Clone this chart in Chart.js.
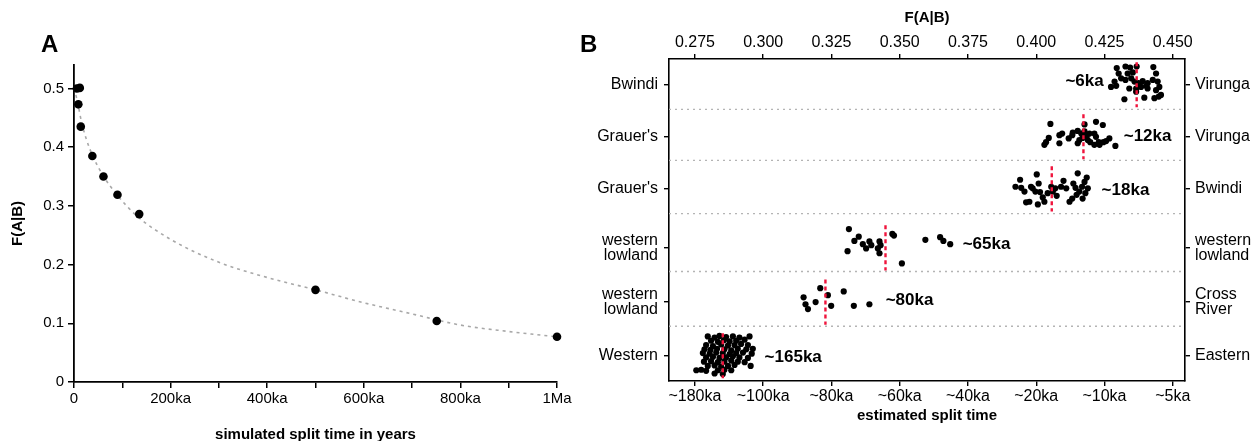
<!DOCTYPE html>
<html lang="en">
<head>
<meta charset="UTF-8" />
<title>F(A|B) and split times</title>
<script src="https://cdn.jsdelivr.net/npm/chart.js"></script>
<style>
  body {
    margin: 0;
    background: #fff;
    width: 1255px;
    height: 441px;
    overflow: hidden;
    position: relative;
    font-family: 'Liberation Sans', Arial, sans-serif;
  }
  .panel { position: absolute; top: 0; height: 441px; }
  #boxA { left: 0; width: 575px; }
  #boxB { left: 575px; width: 680px; }
  .tag { position: absolute; top: 30px; font-weight: bold; font-size: 24px; }
</style>
</head>
<body>
  <div class="panel" id="boxA"><canvas id="chartA"></canvas></div>
  <div class="panel" id="boxB"><canvas id="chartB"></canvas></div>
  <div class="tag" style="left:41px">A</div>
  <div class="tag" style="left:580px">B</div>

<script>
  // ---- panel A: simulated split time (ka) vs F(A|B)
  const simTimes = [6, 12, 9, 14, 38, 61, 90, 135, 500, 751, 1000];
  const simF     = [0.5, 0.501, 0.473, 0.435, 0.385, 0.350, 0.319, 0.286, 0.157, 0.104, 0.077];

  // dashed fitted curve
  const fitTimes = [0, 5, 10, 15, 25, 40, 60, 90, 130, 200, 300, 400, 500, 600, 700, 800, 900, 1000];
  const fitF     = [0.50, 0.485, 0.466, 0.445, 0.415, 0.383, 0.352, 0.318, 0.283, 0.243, 0.204, 0.178, 0.157, 0.135, 0.116, 0.097, 0.086, 0.077];

  const xTicksA = [0, 100, 200, 300, 400, 500, 600, 700, 800, 900, 1000];
  const xTickLabelsA = ['0', '', '200ka', '', '400ka', '', '600ka', '', '800ka', '', '1Ma'];
  const yTicksA = [0, 0.1, 0.2, 0.3, 0.4, 0.5];
  const yTickLabelsA = ['0', '0.1', '0.2', '0.3', '0.4', '0.5'];

  // ---- panel B: per pair of populations
  const leftLabels  = ['Bwindi', "Grauer's", "Grauer's", ['western', 'lowland'], ['western', 'lowland'], 'Western'];
  const rightLabels = ['Virunga', 'Virunga', 'Bwindi', ['western', 'lowland'], ['Cross', 'River'], 'Eastern'];
  const rowPos     = [0.48, 1.45, 2.42, 3.52, 4.53, 5.53];
  const separators = [0.94, 1.89, 2.88, 3.96, 4.98];
  const medians    = [0.4368, 0.4173, 0.4057, 0.3448, 0.3228, 0.2852];
  const splitLabels = ['~6ka', '~12ka', '~18ka', '~65ka', '~80ka', '~165ka'];
  const splitLabelF = [0.4177, 0.4408, 0.4327, 0.3818, 0.3536, 0.3110];
  const splitLabelY = [0.42, 1.44, 2.44, 3.45, 4.50, 5.55];

  const topTicks = [0.275, 0.300, 0.325, 0.350, 0.375, 0.400, 0.425, 0.450];
  const bottomTickLabels = ['~180ka', '~100ka', '~80ka', '~60ka', '~40ka', '~20ka', '~10ka', '~5ka'];

  // jittered replicate estimates [F(A|B), row + jitter]
  const bwindiVirunga = [
    [0.4295,0.17],[0.4327,0.14],[0.4344,0.16],[0.4368,0.14],[0.4429,0.15],[0.4302,0.27],[0.4335,0.27],
    [0.4354,0.25],[0.4439,0.27],[0.4287,0.42],[0.4274,0.52],[0.4293,0.50],[0.4327,0.39],[0.4348,0.36],
    [0.4360,0.42],[0.4375,0.45],[0.4390,0.41],[0.4403,0.50],[0.4427,0.39],[0.4445,0.42],[0.4451,0.52],
    [0.4341,0.55],[0.4366,0.55],[0.4384,0.52],[0.4408,0.55],[0.4439,0.58],[0.4323,0.75],[0.4396,0.72],
    [0.4433,0.73],[0.4449,0.70],[0.4457,0.67],[0.4366,0.61],[0.4378,0.48],[0.4311,0.36],[0.4408,0.45]
  ];
  const grauerVirunga = [
    [0.4052,1.21],[0.4046,1.47],[0.4036,1.55],[0.4030,1.60],[0.4085,1.42],[0.4095,1.39],[0.4085,1.57],
    [0.4119,1.48],[0.4134,1.37],[0.4132,1.42],[0.4152,1.34],[0.4165,1.39],[0.4158,1.51],[0.4152,1.57],
    [0.4177,1.22],[0.4170,1.47],[0.4189,1.51],[0.4198,1.55],[0.4195,1.39],[0.4213,1.39],[0.4219,1.17],
    [0.4244,1.23],[0.4219,1.45],[0.4229,1.55],[0.4213,1.60],[0.4232,1.60],[0.4246,1.55],[0.4256,1.53],
    [0.4268,1.48],[0.4290,1.62],[0.4177,1.35],[0.4185,1.43]
  ];
  const grauerBwindi = [
    [0.3924,2.38],[0.3941,2.25],[0.3945,2.40],[0.3957,2.47],[0.3981,2.38],[0.3987,2.41],[0.3997,2.47],
    [0.4002,2.15],[0.4009,2.32],[0.4014,2.48],[0.4024,2.58],[0.4042,2.50],[0.4055,2.38],[0.4061,2.47],
    [0.4070,2.41],[0.4075,2.55],[0.3963,2.67],[0.3975,2.66],[0.4006,2.71],[0.4030,2.66],[0.4091,2.38],
    [0.4100,2.27],[0.4110,2.41],[0.4122,2.66],[0.4132,2.60],[0.4136,2.32],[0.4144,2.40],[0.4152,2.13],
    [0.4148,2.53],[0.4158,2.47],[0.4168,2.38],[0.4177,2.29],[0.4185,2.21],[0.4180,2.50],[0.4189,2.41],
    [0.4170,2.60]
  ];
  const lowlandLowland = [
    [0.3314,3.17],[0.3350,3.31],[0.3334,3.39],[0.3365,3.45],[0.3377,3.53],[0.3389,3.40],[0.3396,3.47],
    [0.3426,3.40],[0.3430,3.47],[0.3420,3.53],[0.3426,3.62],[0.3309,3.58],[0.3473,3.26],[0.3479,3.29],
    [0.3508,3.81],[0.3594,3.37],[0.3648,3.32],[0.3660,3.39],[0.3685,3.45]
  ];
  const lowlandCross = [
    [0.3148,4.44],[0.3155,4.57],[0.3164,4.66],[0.3192,4.53],[0.3209,4.27],[0.3237,4.40],[0.3249,4.60],
    [0.3295,4.33],[0.3332,4.60],[0.3389,4.57]
  ];
  const westernEastern = [
    [0.2797,5.17],[0.2822,5.19],[0.2840,5.16],[0.2864,5.18],[0.2889,5.17],[0.2913,5.19],[0.2950,5.17],
    [0.2809,5.25],[0.2834,5.27],[0.2856,5.24],[0.2877,5.26],[0.2901,5.25],[0.2932,5.23],
    [0.2791,5.33],[0.2816,5.35],[0.2846,5.32],[0.2871,5.34],[0.2895,5.33],[0.2919,5.31],[0.2944,5.33],
    [0.2785,5.41],[0.2807,5.42],[0.2831,5.40],[0.2858,5.41],[0.2883,5.43],[0.2907,5.40],[0.2938,5.41],[0.2962,5.40],
    [0.2779,5.48],[0.2804,5.49],[0.2828,5.47],[0.2852,5.48],[0.2877,5.50],[0.2901,5.48],[0.2926,5.47],[0.2958,5.49],
    [0.2791,5.56],[0.2816,5.55],[0.2840,5.57],[0.2864,5.56],[0.2889,5.54],[0.2913,5.56],[0.2944,5.57],
    [0.2783,5.64],[0.2809,5.63],[0.2834,5.65],[0.2858,5.64],[0.2883,5.62],[0.2907,5.64],[0.2932,5.65],
    [0.2797,5.72],[0.2822,5.71],[0.2846,5.73],[0.2871,5.72],[0.2895,5.70],[0.2954,5.72],
    [0.2755,5.80],[0.2773,5.79],[0.2791,5.81],[0.2834,5.80],[0.2858,5.79],[0.2883,5.80],
    [0.2822,5.86],[0.2852,5.87]
  ];
  const clusters = [bwindiVirunga, grauerVirunga, grauerBwindi, lowlandLowland, lowlandCross, westernEastern];

  const xMinB = 0.2655, xMaxB = 0.4545;

  const FONT = "'Liberation Sans', Arial, sans-serif";
  Chart.defaults.font.family = FONT;
  Chart.defaults.color = '#000';

  // ---------- chart A
  new Chart(document.getElementById('chartA'), {
    type: 'scatter',
    data: {
      datasets: [
        {
          data: simTimes.map((t, i) => ({ x: t, y: simF[i] })),
          pointRadius: 4.3,
          pointBackgroundColor: '#000',
          pointBorderWidth: 0,
          clip: false
        },
        {
          type: 'line',
          data: fitTimes.map((t, i) => ({ x: t, y: fitF[i] })),
          borderColor: '#a8a8a8',
          borderDash: [3, 4],
          borderWidth: 1.6,
          pointRadius: 0,
          cubicInterpolationMode: 'monotone',
          fill: false,
          clip: false
        }
      ]
    },
    options: {
      animation: false,
      responsive: true,
      maintainAspectRatio: false,
      events: [],
      plugins: { legend: { display: false }, tooltip: { enabled: false } },
      layout: { padding: { top: 65, right: 18, left: 0, bottom: 0 } },
      scales: {
        x: {
          type: 'linear', min: 0, max: 1000,
          afterBuildTicks: s => { s.ticks = xTicksA.map(v => ({ value: v })); },
          afterFit: s => { s.height = 59; },
          ticks: { callback: (v, i) => xTickLabelsA[i], font: { size: 15 }, padding: 2, maxRotation: 0, autoSkip: false },
          grid: { drawOnChartArea: false, tickLength: 6, color: '#000', lineWidth: 1.5 },
          border: { color: '#000', width: 1.8 },
          title: { display: true, text: 'simulated split time in years', font: { size: 15, weight: 'bold' }, padding: { top: 0, bottom: -3 } }
        },
        y: {
          type: 'linear', min: 0, max: 0.54,
          afterBuildTicks: s => { s.ticks = yTicksA.map(v => ({ value: v })); },
          afterFit: s => { s.width = 74; },
          ticks: { callback: (v, i) => yTickLabelsA[i], font: { size: 15 }, padding: 4 },
          grid: { drawOnChartArea: false, tickLength: 6, color: '#000', lineWidth: 1.5 },
          border: { color: '#000', width: 1.8 },
          title: { display: true, text: 'F(A|B)', font: { size: 15, weight: 'bold' }, padding: { top: 9, bottom: 0 } }
        }
      }
    }
  });

  // ---------- chart B
  const halfSpan = 0.42;
  const datasetsB = [];
  medians.forEach((m, i) => {
    datasetsB.push({
      type: 'line',
      data: [{ x: m, y: rowPos[i] - halfSpan }, { x: m, y: rowPos[i] + halfSpan }],
      borderColor: '#f0143c',
      borderDash: [4, 3],
      borderWidth: 2.4,
      pointRadius: 0
    });
  });
  clusters.forEach(c => {
    datasetsB.push({
      data: c.map(p => ({ x: p[0], y: p[1] })),
      pointRadius: 3.1,
      pointBackgroundColor: '#000',
      pointBorderWidth: 0
    });
  });
  separators.forEach(s => {
    datasetsB.push({
      type: 'line',
      data: [{ x: xMinB, y: s }, { x: xMaxB, y: s }],
      borderColor: '#b4b4b4',
      borderDash: [2, 4],
      borderWidth: 1.3,
      pointRadius: 0
    });
  });

  const splitLabelPlugin = {
    id: 'splitLabels',
    afterDatasetsDraw(chart) {
      const { ctx, scales: { x, y } } = chart;
      ctx.save();
      ctx.font = 'bold 17px ' + FONT;
      ctx.fillStyle = '#000';
      ctx.textAlign = 'center';
      ctx.textBaseline = 'middle';
      splitLabels.forEach((t, i) => {
        ctx.fillText(t, x.getPixelForValue(splitLabelF[i]), y.getPixelForValue(splitLabelY[i]));
      });
      ctx.restore();
    }
  };

  const axisGrid = { drawOnChartArea: false, tickLength: 5, color: '#000', lineWidth: 1.4 };
  const axisBorder = { color: '#000', width: 1.6 };

  new Chart(document.getElementById('chartB'), {
    type: 'scatter',
    data: { datasets: datasetsB },
    plugins: [splitLabelPlugin],
    options: {
      animation: false,
      responsive: true,
      maintainAspectRatio: false,
      events: [],
      plugins: { legend: { display: false }, tooltip: { enabled: false } },
      layout: { padding: 0 },
      scales: {
        x: {
          type: 'linear', position: 'top', min: xMinB, max: xMaxB,
          afterBuildTicks: s => { s.ticks = topTicks.map(v => ({ value: v })); },
          afterFit: s => { s.height = 59; },
          ticks: { callback: v => v.toFixed(3), font: { size: 16 }, padding: 2, maxRotation: 0, autoSkip: false },
          grid: axisGrid,
          border: axisBorder,
          title: { display: true, text: 'F(A|B)', font: { size: 15, weight: 'bold' }, padding: { top: 9, bottom: 0 } }
        },
        x2: {
          type: 'linear', axis: 'x', position: 'bottom', min: xMinB, max: xMaxB,
          afterBuildTicks: s => { s.ticks = topTicks.map(v => ({ value: v })); },
          afterFit: s => { s.height = 60; },
          ticks: { callback: (v, i) => bottomTickLabels[i], font: { size: 16 }, padding: 1, maxRotation: 0, autoSkip: false },
          grid: axisGrid,
          border: axisBorder,
          title: { display: true, text: 'estimated split time', font: { size: 15, weight: 'bold' }, padding: { top: 0, bottom: 16 } }
        },
        y: {
          type: 'linear', position: 'left', min: 0, max: 6, reverse: true,
          afterBuildTicks: s => { s.ticks = rowPos.map(v => ({ value: v })); },
          afterFit: s => { s.width = 94; },
          ticks: { callback: (v, i) => leftLabels[i], font: { size: 16, lineHeight: 0.95 }, padding: 6 },
          grid: axisGrid,
          border: axisBorder
        },
        y2: {
          type: 'linear', axis: 'y', position: 'right', min: 0, max: 6, reverse: true,
          afterBuildTicks: s => { s.ticks = rowPos.map(v => ({ value: v })); },
          afterFit: s => { s.width = 70; },
          ticks: { callback: (v, i) => rightLabels[i], font: { size: 16, lineHeight: 0.95 }, padding: 5 },
          grid: axisGrid,
          border: axisBorder
        }
      }
    }
  });
</script>
</body>
</html>
